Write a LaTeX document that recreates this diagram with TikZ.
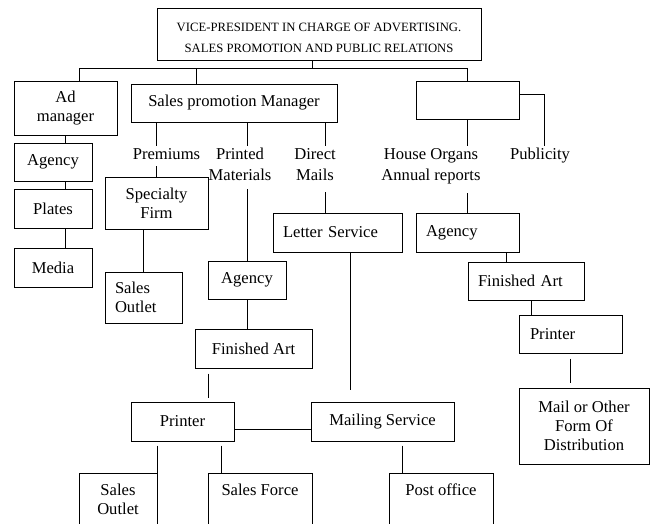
\documentclass[tikz,border=0pt]{standalone}
\usepackage{fontspec}
\setmainfont{Liberation Serif}
\begin{document}
\begin{tikzpicture}[x=1pt,y=-1pt,
  box/.style={draw, line width=1pt, inner sep=0pt, align=center, font=\fontsize{16.6}{19}\selectfont},
  lbox/.style={box, align=left, inner xsep=10pt, text width=#1},
  lab/.style={inner xsep=0pt, inner ysep=2pt, align=center, font=\fontsize{16.6}{21}\selectfont},
  ln/.style={line width=1pt},
  bot/.style={box, anchor=north, inner ysep=10pt}
]
\useasboundingbox (0,0) rectangle (650,523);
% boxes
\node[box, minimum width=324, minimum height=52, font=\fontsize{12.7}{21}\selectfont] (vp) at (319,34)
  {\rule{0pt}{15.4pt}VICE-PRESIDENT IN CHARGE OF ADVERTISING.\\SALES PROMOTION AND PUBLIC RELATIONS};
\node[box, minimum width=103, minimum height=54] (adm) at (65.5,108) {Ad\\manager};
\node[box, minimum width=206, minimum height=38] (spm) at (234,103) {Sales promotion Manager};
\node[box, minimum width=103, minimum height=38] (emp) at (467.5,100) {};
\node[box, minimum width=78, minimum height=38] (ag1) at (53,162) {Agency};
\node[box, minimum width=78, minimum height=39] (pl) at (53,208.5) {Plates};
\node[box, minimum width=78, minimum height=39] (med) at (53,267.5) {Media};
\node[box, minimum width=103, minimum height=52] (spf) at (156.5,203) {Specialty\\Firm};
\node[lbox=57pt, minimum width=77, minimum height=51] (so1) at (143.5,297.5) {Sales\\Outlet};
\node[box, minimum width=78, minimum height=38] (ag2) at (247,280) {Agency};
\node[lbox=109pt, minimum width=129, minimum height=39] (ls) at (337.5,232.5) {Letter Service};
\node[lbox=83pt, minimum width=103, minimum height=39] (ag3) at (467.5,232.5) {Agency};
\node[lbox=96pt, minimum width=116, minimum height=38] (fa3) at (526,281) {Finished Art};
\node[lbox=81pt, inner xsep=11pt, minimum width=103, minimum height=38] (pr3) at (570.5,334) {Printer};
\node[box, minimum width=130, minimum height=76] (mail) at (584,426) {Mail or Other\\Form Of\\Distribution};
\node[box, minimum width=117, minimum height=39] (fa2) at (253.5,348.5) {Finished Art};
\node[box, minimum width=103, minimum height=39] (pr2) at (182.5,421.5) {Printer};
\node[box, minimum width=143, minimum height=39] (ms) at (382.5,421.5) {Mailing Service};
\node[bot, minimum width=78] (so2) at (118,473) {Sales\\Outlet\rule[-30pt]{0pt}{30pt}};
\node[bot, minimum width=104] (sf) at (260,473) {Sales Force\rule[-40pt]{0pt}{40pt}};
\node[bot, minimum width=104] (po) at (441,473) {Post office\rule[-40pt]{0pt}{40pt}};
% labels
\node[lab] (prem) at (166.5,153.9) {Premiums};
\node[lab] (pm) at (240,164.4) {Printed\\Materials};
\node[lab] (dm) at (315,164.4) {Direct\\Mails};
\node[lab] (ho) at (431,166.2) {House Organs\\Annual reports};
\node[lab] (pub) at (540,155.7) {Publicity};
% connectors
\coordinate (hub) at (312,68);
\coordinate (hl) at (79,68);
\coordinate (hs) at (196,68);
\coordinate (hr) at (467.5,68);
\draw[ln] (vp.south -| hub) -- (hub);
\draw[ln] (hl) -- (hr);
\draw[ln] (hl) -- (hl |- adm.north);
\draw[ln] (hs) -- (hs |- spm.north);
\draw[ln] (hr) -- (emp.north);
\draw[ln] (adm.south) -- (adm.south |- ag1.north);
\draw[ln] (ag1.south -| adm.south) -- (pl.north -| adm.south);
\draw[ln] (pl.south -| adm.south) -- (med.north -| adm.south);
\draw[ln] (spm.south -| spf.north) -- (prem.north -| spf.north);
\draw[ln, shorten <=4.5pt] (prem.south -| spf.north) -- (spf.north);
\draw[ln] (spm.south -| ag2.north) -- (pm.north -| ag2.north);
\draw[ln, shorten <=6.5pt] (pm.south -| ag2.north) -- (ag2.north);
\coordinate (dx) at (325,0);
\draw[ln] (spm.south -| dx) -- (dm.north -| dx);
\draw[ln, shorten <=9.5pt] (dm.south -| dx) -- (ls.north -| dx);
\draw[ln] (emp.south) -- (ho.north -| emp.south);
\draw[ln, shorten <=7pt] (ho.south -| emp.south) -- (ag3.north);
\coordinate (pubc) at (544,94);
\draw[ln] (pubc -| emp.east) -- (pubc) -- (pubc |- pub.north);
\draw[ln] (so1.north |- spf.south) -- (so1.north);
\draw[ln] (ag2.south) -- (ag2.south |- fa2.north);
\coordinate (fx) at (208,0);
\draw[ln, shorten <=5pt, shorten >=4pt] (fa2.south -| fx) -- (pr2.north -| fx);
\coordinate (lx) at (350,0);
\draw[ln, shorten >=12pt] (ls.south -| lx) -- (ms.north -| lx);
\coordinate (py) at (0,429);
\draw[ln] (pr2.east |- py) -- (ms.west |- py);
\draw[ln, shorten <=4pt] (pr2.south -| so2.north east) -- (so2.north east);
\coordinate (sx) at (221.5,0);
\draw[ln, shorten <=4pt] (pr2.south -| sx) -- (sf.north -| sx);
\coordinate (mx) at (402,0);
\draw[ln, shorten <=4pt] (ms.south -| mx) -- (po.north -| mx);
\coordinate (ax) at (506,0);
\draw[ln] (ag3.south -| ax) -- (fa3.north -| ax);
\coordinate (fx3) at (531.5,0);
\draw[ln] (fa3.south -| fx3) -- (pr3.north -| fx3);
\draw[ln, shorten <=5pt, shorten >=5pt] (pr3.south) -- (mail.north -| pr3.south);
\end{tikzpicture}
\end{document}
